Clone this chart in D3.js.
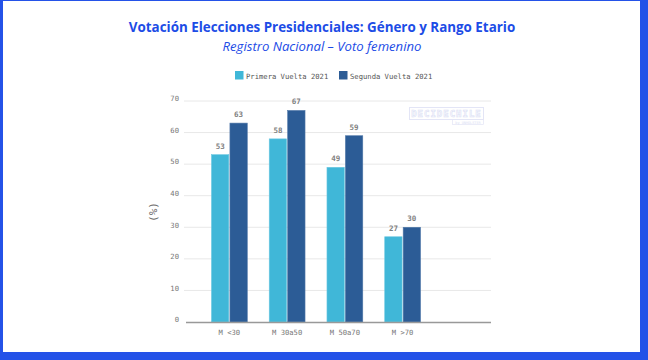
<!DOCTYPE html>
<html><head><meta charset="utf-8">
<script src="https://cdn.jsdelivr.net/npm/d3@7"></script>
<style>html,body{margin:0;padding:0;background:#2452e8;}svg{display:block;}</style>
</head><body>
<svg id="c" width="648" height="360"></svg>
<script>
const categories = ["M <30", "M 30a50", "M 50a70", "M >70"];
const seriesNames = ["Primera Vuelta 2021", "Segunda Vuelta 2021"];
const primera = [53, 58, 49, 27];
const segunda = [63, 67, 59, 30];
const yTicks = [0, 10, 20, 30, 40, 50, 60, 70];
const colors = ["#40b7d8", "#2c5c96"];

const svg = d3.select("#c");
// frame
svg.append("rect").attr("x",0).attr("y",0).attr("width",648).attr("height",360).attr("fill","#2452e8");
svg.append("rect").attr("x",3).attr("y",1).attr("width",637).attr("height",351).attr("fill","#ffffff");

function fitText(sel, target){
  const w = sel.node().getComputedTextLength();
  const fs = parseFloat(sel.attr("font-size"));
  sel.attr("font-size", fs*target/w);
}
const title = svg.append("text").attr("x",322).attr("y",32).attr("text-anchor","middle")
  .attr("font-family","'Open Sans', sans-serif").attr("font-weight","bold").attr("font-size",16)
  .attr("fill","#1c4ce6").text("Votación Elecciones Presidenciales: Género y Rango Etario");
fitText(title, 387);
const sub = svg.append("text").attr("x",322).attr("y",51).attr("text-anchor","middle")
  .attr("font-family","'Open Sans', sans-serif").attr("font-style","italic").attr("font-size",13)
  .attr("fill","#1c4ce6").text("Registro Nacional – Voto femenino");
fitText(sub, 199);

const mono = "'DejaVu Sans Mono', monospace";

// legend
const leg = [{x:235},{x:339}];
seriesNames.forEach((n,i)=>{
  svg.append("rect").attr("x",leg[i].x).attr("y",71).attr("width",8.5).attr("height",8.5).attr("fill",colors[i]);
  svg.append("text").attr("x",leg[i].x+11).attr("y",78.5).attr("font-family",mono).attr("font-size",7.2)
    .attr("fill","#555").text(n);
});

// scales
const y = d3.scaleLinear().domain([0,70]).range([322, 101]);
const x0 = d3.scaleBand().domain(categories).range([200.5, 431.5]).paddingInner(0.38).paddingOuter(0.19);
const x1 = d3.scaleBand().domain(seriesNames).range([0, x0.bandwidth()]).paddingInner(0.06);

// grid
const gridLeft = 184, gridRight = 491;
svg.append("g").selectAll("line").data(yTicks.filter(d=>d>0)).join("line")
  .attr("x1",gridLeft).attr("x2",gridRight).attr("y1",d=>y(d)).attr("y2",d=>y(d))
  .attr("stroke","#e8e8e8").attr("stroke-width",1);

// y tick labels
const yAxis = d3.axisLeft(y).tickValues(yTicks).tickSize(0).tickPadding(0);
const ga = svg.append("g").attr("transform","translate(179,-2.5)").call(yAxis);
ga.select(".domain").remove();
ga.selectAll("text").attr("font-family",mono).attr("font-size",7.2).attr("fill","#777");

// y axis title
svg.append("text").attr("transform","translate(157,212) rotate(-90)").attr("text-anchor","middle")
  .attr("font-family",mono).attr("font-size",11).attr("fill","#666").text("(%)");

// bars
const data = categories.map((c,i)=>({cat:c, vals:[{s:seriesNames[0],v:primera[i]},{s:seriesNames[1],v:segunda[i]}]}));
const groups = svg.append("g").selectAll("g").data(data).join("g")
  .attr("transform",d=>`translate(${x0(d.cat)},0)`);
groups.selectAll("rect").data(d=>d.vals).join("rect")
  .attr("x",d=>x1(d.s)).attr("width",x1.bandwidth())
  .attr("y",d=>y(d.v)).attr("height",d=>y(0)-y(d.v))
  .attr("fill",(d,i)=>colors[i]).attr("stroke",(d,i)=>i==0?"#6cc8e2":"#5078a8").attr("stroke-width",0.6);
groups.selectAll("text").data(d=>d.vals).join("text")
  .attr("x",d=>x1(d.s)+x1.bandwidth()/2).attr("y",d=>y(d.v)-6)
  .attr("text-anchor","middle").attr("font-family",mono).attr("font-size",7.5).attr("font-weight","bold")
  .attr("fill","#808080").text(d=>d.v);

// baseline
svg.append("line").attr("x1",186).attr("x2",gridRight).attr("y1",y(0)+0.5).attr("y2",y(0)+0.5)
  .attr("stroke","#999").attr("stroke-width",1.5);

// x axis labels
const xAxis = d3.axisBottom(x0).tickSize(0).tickPadding(8);
const gx = svg.append("g").attr("transform",`translate(0,${y(0)})`).call(xAxis);
gx.select(".domain").remove();
gx.selectAll("text").attr("font-family",mono).attr("font-size",7.2).attr("fill","#777");

// watermark
const wm = svg.append("g").attr("opacity",0.9);
wm.append("rect").attr("x",409.5).attr("y",107.5).attr("width",74).attr("height",12).attr("fill","none").attr("stroke","#e0e3f6");
wm.append("text").attr("x",446.5).attr("y",117).attr("text-anchor","middle").attr("font-family",mono)
  .attr("font-size",9).attr("font-weight","bold").attr("fill","none").attr("stroke","#d8dcf4").attr("stroke-width",0.6)
  .attr("letter-spacing",1).text("DECIDECHILE");
wm.append("rect").attr("x",452.5).attr("y",119.5).attr("width",31).attr("height",5).attr("fill","none").attr("stroke","#e0e3f6").attr("stroke-width",0.7);
wm.append("text").attr("x",468).attr("y",123.5).attr("text-anchor","middle").attr("font-family",mono)
  .attr("font-size",3.5).attr("fill","#d8dcf4").text("by UNHOLSTER");
</script>
</body></html>
